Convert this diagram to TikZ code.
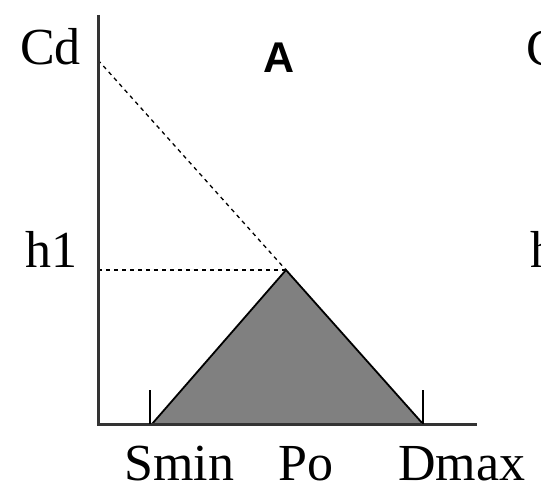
\documentclass[tikz,border=0pt]{standalone}
\usepackage{fontspec}
\setmainfont{Liberation Serif}
\newfontfamily\boldsans{Liberation Sans}
\begin{document}
\begin{tikzpicture}[x=1pt,y=-1pt,
  lbl/.style={inner sep=0pt,anchor=base west,font=\fontsize{52}{52}\selectfont},
  axisline/.style={line width=3pt,draw=black!80},
  dashline/.style={line width=1.3pt,dash pattern=on 4pt off 4pt},
  tickline/.style={line width=1.8pt}]
\useasboundingbox (0,0) rectangle (541,494);
\clip (0,0) rectangle (541,494);
\coordinate (top) at (98,15);
\coordinate (origin) at (98,424);
\coordinate (xend) at (477,424);
\coordinate (cd) at (98,60);
\coordinate (h1p) at (98,270);
\coordinate (apex) at (286,270);
\coordinate (left) at (152,424);
\coordinate (right) at (423,424);
\fill[fill=black!50] (left) -- (apex) -- (right) -- cycle;
\draw[line width=1.8pt,line join=miter] (left) -- (apex) -- (right);
\draw[dashline] (cd) -- (apex);
\draw[dashline] (h1p) -- (apex);
\draw[axisline] (top) -- (origin) -- (xend);
\draw[tickline] (150,390) -- (150,424);
\draw[tickline] (423,390) -- (423,424);
\node[lbl] (tcd) at (20,65) {Cd};
\node[lbl] (th1) at (25,268) {h1};
\node[lbl] (tsmin) at (124,480) {Smin};
\node[lbl] (tpo) at (278,480) {Po};
\node[lbl] (tdmax) at (398,480) {Dmax};
\node[inner sep=0pt,anchor=base west,font=\boldsans\bfseries\fontsize{43}{43}\selectfont] (ta) at (263,73) {A};
\node[lbl] (tcd2) at (526,66) {Cd};
\node[lbl] (th2) at (530,268) {h1};
\end{tikzpicture}
\end{document}
